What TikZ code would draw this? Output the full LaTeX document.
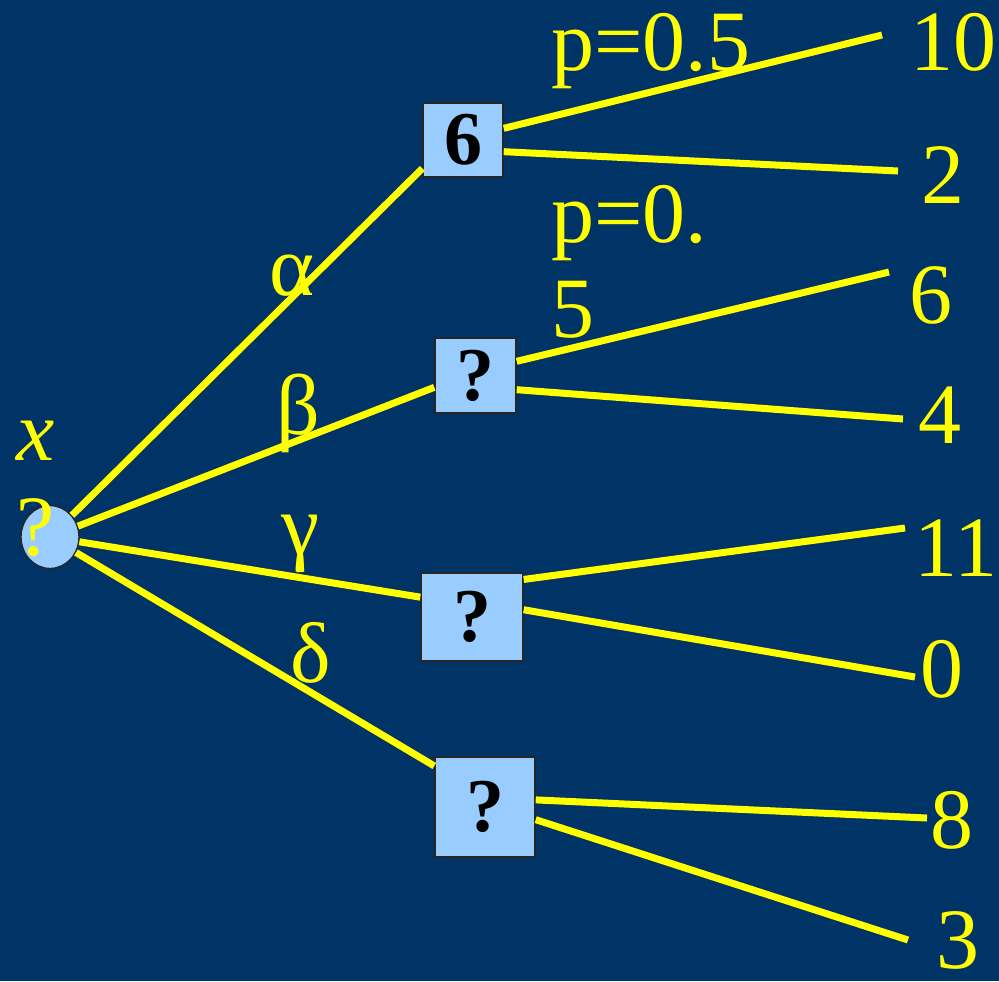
\documentclass[tikz,border=0pt]{standalone}
\usepackage{fontspec}
\setmainfont{Liberation Serif}
\usetikzlibrary{shapes.geometric}
\definecolor{bgblue}{RGB}{0,51,102}
\definecolor{boxblue}{RGB}{153,204,255}
\definecolor{lineyellow}{RGB}{255,255,0}

\begin{document}
\begin{tikzpicture}[x=0.5pt,y=-0.5pt,
    choice/.style={draw=black!85, line width=0.7pt, fill=boxblue, inner sep=0pt,
        font=\fontsize{38}{40}\selectfont\bfseries},
    branch/.style={lineyellow, line width=3.5pt},
    lbl/.style={text=lineyellow, inner sep=0pt, anchor=base,
        font=\fontsize{43}{47.5}\selectfont}]
    \fill[bgblue] (0,0) rectangle (999,981);
    % chance node and decision boxes
    \node[ellipse, draw=black!85, line width=0.7pt, fill=boxblue, inner sep=0pt,
        minimum width=29pt, minimum height=31.5pt] (c) at (50,537) {};
    \node[choice, minimum width=40pt, minimum height=37pt] (b1) at (463,140) {6};
    \node[choice, minimum width=40.5pt, minimum height=37.5pt] (b2) at (475.5,375.5) {?};
    \node[choice, minimum width=51pt, minimum height=44pt] (b3) at (472,617) {?};
    \node[choice, minimum width=50pt, minimum height=50pt] (b4) at (485,807) {?};
    % free ends of the outcome lines
    \coordinate (e10) at (882,35);
    \coordinate (e2) at (898,171);
    \coordinate (e6) at (889,272);
    \coordinate (e4) at (903,419);
    \coordinate (e11) at (905,528);
    \coordinate (e0) at (915,677);
    \coordinate (e8) at (927,818);
    \coordinate (e3) at (908,940);
    % branches
    \draw[branch] (c) -- (b1.-145);
    \draw[branch] (c) -- (b2.-164);
    \draw[branch] (c) -- (b3.159.6);
    \draw[branch] (c) -- (b4.141.3);
    \draw[branch] (b1.16.7) -- (e10);
    \draw[branch] (b1.-16.7) -- (e2);
    \draw[branch] (b2.19.7) -- (e6);
    \draw[branch] (b2.-19.7) -- (e4);
    \draw[branch] (b3.36.7) -- (e11);
    \draw[branch] (b3.8.9) -- (e0);
    \draw[branch] (b4.8) -- (e8);
    \draw[branch] (b4.-14.6) -- (e3);
    % labels
    \node[lbl] (la) at (292,295) {α};
    \node[lbl] (lb) at (298,434) {β};
    \node[lbl] (lg) at (300,554) {γ};
    \node[lbl] (ld) at (311,682) {δ};
    \node[lbl, anchor=base west] (p1) at (551,70) {p=0.5};
    \node[lbl, anchor=base west, align=left] (p2) at (551,337) {p=0.\\5};
    \node[lbl, align=center] (q) at (36,555) {\textit{x}\\?};
    \node[lbl] (v10) at (953,70) {10};
    \node[lbl] (v2) at (943,203) {2};
    \node[lbl] (v6) at (931,323) {6};
    \node[lbl] (v4) at (940,443) {4};
    \node[lbl] (v11) at (956,576) {11};
    \node[lbl] (v0) at (942,697) {0};
    \node[lbl] (v8) at (952,848) {8};
    \node[lbl] (v3) at (958,968) {3};
\end{tikzpicture}
\end{document}
